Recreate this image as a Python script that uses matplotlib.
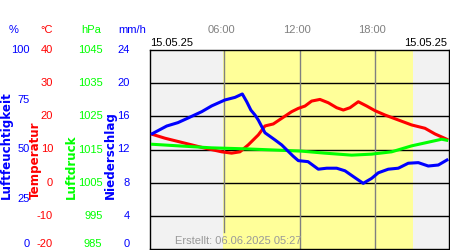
import numpy as np
import matplotlib
matplotlib.use("Agg")
import matplotlib.pyplot as plt
import matplotlib.transforms as mtransforms

plt.rcParams['font.family'] = ['Liberation Sans', 'DejaVu Sans']

# data (hours of day)
hum_t = [0.16, 1.41, 2.3, 3.1, 4.19, 4.98, 6.04, 6.84, 7.42, 7.77, 8.1, 8.43, 8.69, 9.22, 10.02,
         10.55, 11.45, 11.87, 12.64, 13.46, 14.13, 14.92, 15.58, 16.38, 17.03, 17.7, 18.23,
         19.02, 19.82, 20.61, 21.41, 22.2, 23.0, 23.79]
hum = [57.6, 61.8, 63.5, 65.8, 69.0, 71.9, 74.9, 76.2, 77.9, 74.0, 69.8, 67.3, 64.8, 58.4, 54.8,
       52.3, 46.7, 44.4, 43.9, 40.1, 40.6, 40.6, 39.3, 35.8, 33.0, 35.5, 38.3,
       40.1, 40.6, 43.1, 43.4, 41.7, 42.2, 45.1]

temp_t = [0.16, 1.27, 2.86, 4.45, 5.78, 6.57, 7.23, 7.89, 8.69, 9.22, 9.88, 10.55, 11.34, 11.87,
          12.4, 12.93, 13.59, 14.25, 14.92, 15.45, 15.98, 16.64, 17.31, 17.97, 18.76, 19.82,
          20.88, 21.94, 22.73, 23.79]
temp = [14.7, 13.4, 11.9, 10.4, 9.3, 8.9, 9.3, 11.4, 14.4, 17.1, 17.7, 19.4, 21.4, 22.4,
        23.1, 24.6, 25.1, 24.1, 22.6, 21.9, 22.6, 24.4, 23.1, 21.7, 20.4, 18.9,
        17.4, 16.4, 14.7, 12.9]

pres_t = [0.16, 2.33, 4.98, 7.63, 10.28, 12.14, 13.99, 16.11, 17.7, 19.29, 20.88, 22.2, 23.27, 23.79]
pres = [1016.6, 1016.1, 1015.5, 1015.2, 1014.8, 1014.5, 1013.9, 1013.3, 1013.6, 1014.3, 1016.1,
        1017.2, 1018.1, 1017.7]

hum_ticks = [0, 25, 50, 75, 100]
temp_ticks = [-20, -10, 0, 10, 20, 30, 40]
pres_ticks = [985, 995, 1005, 1015, 1025, 1035, 1045]
rain_ticks = [0, 4, 8, 12, 16, 20, 24]
hour_ticks = [6, 12, 18]
hour_labels = ["06:00", "12:00", "18:00"]
daylight = (5.85, 21.0)
date_str = "15.05.25"
created = "Erstellt: 06.06.2025 05:27"

blue = "#0000ff"
red = "#ff0000"
green = "#00ff00"
grey = "#808080"

fig = plt.figure(figsize=(4.5, 2.5), dpi=100)
ax = fig.add_axes([150 / 450, 1 / 250, 299 / 450, 199 / 250])
ax.set_xlim(0.08, 23.85)
ax.set_ylim(-20, 40)
ax.set_facecolor("#f2f2f2")
ax.axvspan(daylight[0], daylight[1], color="#ffff99", lw=0, zorder=0)
for v in temp_ticks[1:-1]:
    ax.axhline(v, color="black", lw=1, zorder=1)
for h in hour_ticks:
    ax.axvline(h, ymin=0.085 if h == 6 else 0, color=grey, lw=1, zorder=1)
ax.set_xticks([])
ax.set_yticks([])
for s in ax.spines.values():
    s.set_color("black")
    s.set_linewidth(1)

ax_h = ax.twinx()
ax_h.set_ylim(0, 100)
ax_p = ax.twinx()
ax_p.set_ylim(985, 1045)
for a in (ax_h, ax_p):
    a.set_yticks([])
    for s in a.spines.values():
        s.set_visible(False)

ax_p.plot(pres_t, pres, color=green, lw=2.2, solid_capstyle="butt")
ax.plot(temp_t, temp, color=red, lw=2.2, solid_capstyle="butt", zorder=3)
ax_h.plot(hum_t, hum, color=blue, lw=2.2, solid_capstyle="butt")
ax_h.set_zorder(ax_p.get_zorder() + 1)

# left hand scales
fs = 8
tr_h = mtransforms.blended_transform_factory(fig.transFigure, ax_h.transData)
tr_t = mtransforms.blended_transform_factory(fig.transFigure, ax.transData)
tr_p = mtransforms.blended_transform_factory(fig.transFigure, ax_p.transData)
tr_r = mtransforms.blended_transform_factory(fig.transFigure, ax.transAxes)

for v in hum_ticks:
    fig.text(29.5 / 450, v, str(v), transform=tr_h, ha="right",
             va="bottom" if v == 0 else "center", color=blue, fontsize=fs)
for v in temp_ticks:
    ax.text(53 / 450, v, str(v), transform=tr_t, ha="right",
            va="bottom" if v == -20 else "center", color=red, fontsize=fs)
for v in pres_ticks:
    ax.text(102.5 / 450, v, str(v), transform=tr_p, ha="right",
            va="bottom" if v == 985 else "center", color=green, fontsize=fs)
for v in rain_ticks:
    ax.text(129.5 / 450, v / 24, str(v), transform=tr_r, ha="right",
            va="bottom" if v == 0 else "center", color=blue, fontsize=fs)

hy = 1 - 30 / 250
fig.text(14 / 450, hy, "%", ha="center", va="center", color=blue, fontsize=fs)
fig.text(47 / 450, hy, "°C", ha="center", va="center", color=red, fontsize=fs)
fig.text(91 / 450, hy, "hPa", ha="center", va="center", color=green, fontsize=fs)
fig.text(132 / 450, hy, "mm/h", ha="center", va="center", color=blue, fontsize=fs)

# rotated axis titles (wide lettering)
ly = 1 - 199 / 250
kw = dict(rotation=90, ha="center", va="bottom", fontsize=8.6,
          family="DejaVu Sans", fontweight="bold")
fig.text(6 / 450, ly, "Luftfeuchtigkeit", color=blue, **kw)
fig.text(35 / 450, ly, "Temperatur", color=red, **kw)
fig.text(71.5 / 450, ly, "Luftdruck", color=green, **kw)
fig.text(110.5 / 450, ly, "Niederschlag", color=blue, **kw)

# top labels
tr_x = mtransforms.blended_transform_factory(ax.transData, fig.transFigure)
for h, lab in zip(hour_ticks, hour_labels):
    ax.text(h - 0.25, 1 - 30 / 250, lab, transform=tr_x, ha="center", va="center",
            color=grey, fontsize=fs)
fig.text(150 / 450, 1 - 43.5 / 250, date_str, ha="left", va="center", color="black", fontsize=fs)
fig.text(447 / 450, 1 - 43.5 / 250, date_str, ha="right", va="center", color="black", fontsize=fs)
fig.text(175 / 450, 1 - 241 / 250, created, ha="left", va="center", color="#999999", fontsize=fs)

fig.savefig("out.png", dpi=100)
